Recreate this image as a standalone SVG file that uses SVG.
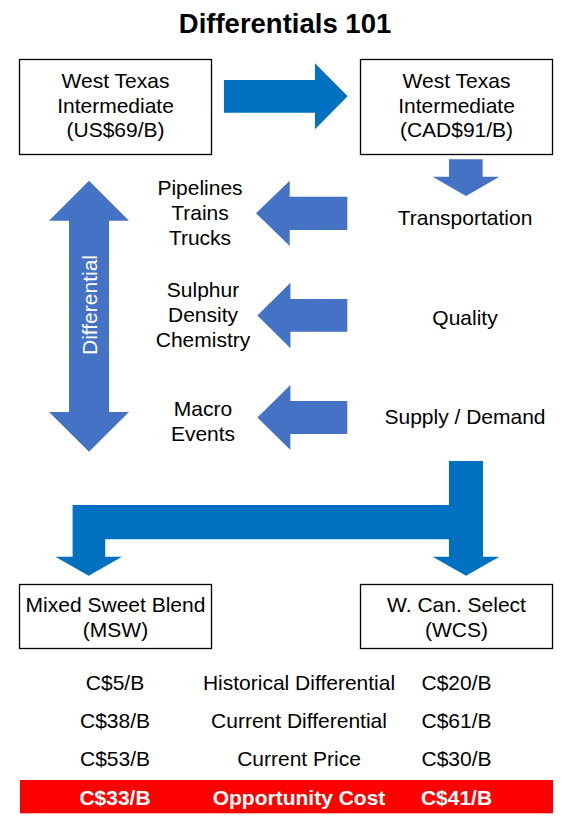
<svg xmlns="http://www.w3.org/2000/svg" width="572" height="827" viewBox="0 0 572 827">
<style>
text{font-family:"Liberation Sans",Arial,sans-serif;font-size:21px;fill:#000;text-anchor:middle}
.title{font-size:27.5px;font-weight:bold}
.box{fill:#fff;stroke:#000;stroke-width:1.3}
.dk{fill:#0070C0}
.lt{fill:#4472C4}
.w{fill:#fff}
.b{font-weight:bold;fill:#fff}
</style>
<rect width="572" height="827" fill="#fff"/>
<text class="title" x="285" y="33">Differentials 101</text>

<g id="wti-us">
<rect class="box" x="19.5" y="59.5" width="192" height="95"/>
<text x="115.5" y="88.3">West Texas</text>
<text x="115.5" y="112.8">Intermediate</text>
<text x="115.5" y="137.3">(US$69/B)</text>
</g>
<g id="wti-cad">
<rect class="box" x="360.5" y="59.5" width="192" height="95"/>
<text x="456.5" y="88.3">West Texas</text>
<text x="456.5" y="112.8">Intermediate</text>
<text x="456.5" y="137.3">(CAD$91/B)</text>
</g>
<g id="transport">
<text x="465" y="225">Transportation</text>
</g>
<g id="quality">
<text x="465" y="325">Quality</text>
</g>
<g id="supply">
<text x="465" y="424">Supply / Demand</text>
</g>
<g id="transport-items">
<text x="200" y="195">Pipelines</text>
<text x="200" y="220">Trains</text>
<text x="200" y="245">Trucks</text>
</g>
<g id="quality-items">
<text x="203" y="297.3">Sulphur</text>
<text x="203" y="322.3">Density</text>
<text x="203" y="346.7">Chemistry</text>
</g>
<g id="supply-items">
<text x="203" y="416">Macro</text>
<text x="203" y="440.7">Events</text>
</g>
<g id="differential">
<polygon class="lt" points="89,180.7 129,220.7 109,220.7 109,412 129,412 89,451.7 49,412 69,412 69,220.7 49,220.7"/>
<text class="w" transform="translate(96.5,305) rotate(-90)" x="0" y="0">Differential</text>
</g>
<g id="msw">
<rect class="box" x="19.5" y="584.5" width="192" height="64"/>
<text x="115.5" y="612">Mixed Sweet Blend</text>
<text x="115.5" y="637">(MSW)</text>
</g>
<g id="wcs">
<rect class="box" x="360.5" y="584.5" width="192" height="64"/>
<text x="456.5" y="612">W. Can. Select</text>
<text x="456.5" y="637">(WCS)</text>
</g>

<g id="connectors">
<polygon class="dk" points="224,80 315,80 315,63.3 347.6,96.3 315,129.3 315,112.7 224,112.7"/>
<polygon class="lt" points="449,159.3 482.6,159.3 482.6,176.7 499.4,176.7 466,196 432.7,176.7 449,176.7"/>
<polygon class="lt" points="256,213.3 289.7,180.7 289.7,196.7 347.3,196.7 347.3,230 289.7,230 289.7,246"/>
<polygon class="lt" points="257.4,315.5 290.4,282.7 290.4,299 347.3,299 347.3,331.7 290.4,331.7 290.4,348.3"/>
<polygon class="lt" points="257.4,417.5 290.4,385 290.4,401 347.3,401 347.3,434 290.4,434 290.4,450"/>
<polygon class="dk" points="449,461 483,461 483,556.7 499.4,556.7 466,575.7 432.7,556.7 449,556.7 449,539.3 105.2,539.3 105.2,556.7 122,556.7 88.7,575.7 55.4,556.7 72.6,556.7 72.6,505 449,505"/>
</g>

<g id="table">
<text x="115" y="690">C$5/B</text>
<text x="299" y="690">Historical Differential</text>
<text x="456.5" y="690">C$20/B</text>
<text x="115" y="728">C$38/B</text>
<text x="299" y="728">Current Differential</text>
<text x="456.5" y="728">C$61/B</text>
<text x="115" y="766">C$53/B</text>
<text x="299" y="766">Current Price</text>
<text x="456.5" y="766">C$30/B</text>
<rect x="20" y="780" width="533" height="33.3" fill="#FF0000"/>
<text class="b" x="115" y="805">C$33/B</text>
<text class="b" x="299" y="805">Opportunity Cost</text>
<text class="b" x="456.5" y="805">C$41/B</text>
</g>
</svg>
